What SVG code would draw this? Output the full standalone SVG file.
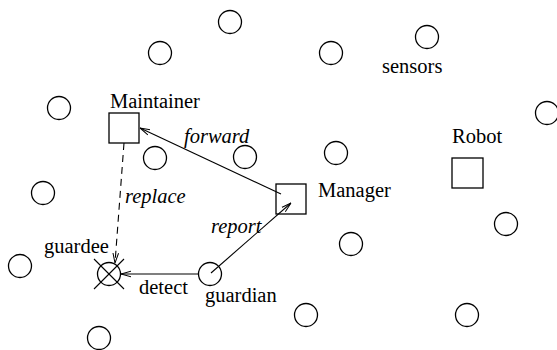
<svg xmlns="http://www.w3.org/2000/svg" width="557" height="350" viewBox="0 0 557 350">
<defs>
<style>
.s{fill:none;stroke:#000;stroke-width:1.3}
.t{font-family:'Liberation Serif','Times New Roman',Times,'Nimbus Roman','Nimbus Roman No9 L','DejaVu Serif','Noto Serif',FreeSerif,serif;font-size:20.5px;fill:#000}
.i{font-style:italic}
.c{fill:none;stroke:#000;stroke-width:1.1}
</style>
<marker id="ah" viewBox="0 0 10 8" refX="10" refY="4" markerWidth="10" markerHeight="8" markerUnits="userSpaceOnUse" orient="auto">
<path d="M0,1.2 L10,4 L0,6.8" fill="none" stroke="#000" stroke-width="1"/>
</marker>
</defs>
<rect width="557" height="350" fill="#fff"/>
<g id="sensors-field">
<circle class="s" cx="230" cy="22" r="11.5"/>
<circle class="s" cx="160" cy="53" r="11.5"/>
<circle class="s" cx="331" cy="53" r="11.5"/>
<circle class="s" cx="427" cy="37" r="11.5"/>
<circle class="s" cx="59" cy="108" r="11.5"/>
<circle class="s" cx="547" cy="113" r="11.5"/>
<circle class="s" cx="155" cy="158" r="11.5"/>
<circle class="s" cx="245" cy="157" r="11.5"/>
<circle class="s" cx="336" cy="153" r="11.5"/>
<circle class="s" cx="43" cy="193" r="11.5"/>
<circle class="s" cx="351" cy="244" r="11.5"/>
<circle class="s" cx="506" cy="224" r="11.5"/>
<circle class="s" cx="20" cy="266" r="11.5"/>
<circle class="s" cx="306" cy="315" r="11.5"/>
<circle class="s" cx="467" cy="315" r="11.5"/>
<circle class="s" cx="99" cy="338" r="11.5"/>
<text class="t" x="382" y="73">sensors</text>
</g>
<g id="connectors">
<line class="c" x1="281" y1="194" x2="140" y2="128" marker-end="url(#ah)"/>
<line class="c" x1="124" y1="143" x2="115" y2="263" stroke-dasharray="7,5" marker-end="url(#ah)"/>
<line class="c" x1="211" y1="273" x2="291" y2="203" marker-end="url(#ah)"/>
<line class="c" x1="198" y1="274" x2="121" y2="274" marker-end="url(#ah)"/>
<text class="t i" x="184" y="143">forward</text>
<text class="t i" x="125" y="203">replace</text>
<text class="t i" x="211" y="233">report</text>
<text class="t" x="139" y="294">detect</text>
</g>
<g id="maintainer">
<rect class="s" x="109" y="113" width="30" height="30"/>
<text class="t" x="110" y="108">Maintainer</text>
</g>
<g id="manager">
<rect class="s" x="276" y="184" width="30" height="30"/>
<text class="t" x="318" y="197">Manager</text>
</g>
<g id="robot">
<rect class="s" x="452" y="158" width="31" height="30"/>
<text class="t" x="452" y="143">Robot</text>
</g>
<g id="guardian">
<circle class="s" cx="210" cy="274" r="11.5"/>
<text class="t" x="205" y="302">guardian</text>
</g>
<g id="guardee">
<circle class="s" cx="109" cy="274" r="11.5"/>
<line class="c" x1="94" y1="259" x2="124" y2="289"/>
<line class="c" x1="124" y1="259" x2="94" y2="289"/>
<text class="t" x="44" y="253">guardee</text>
</g>
</svg>
